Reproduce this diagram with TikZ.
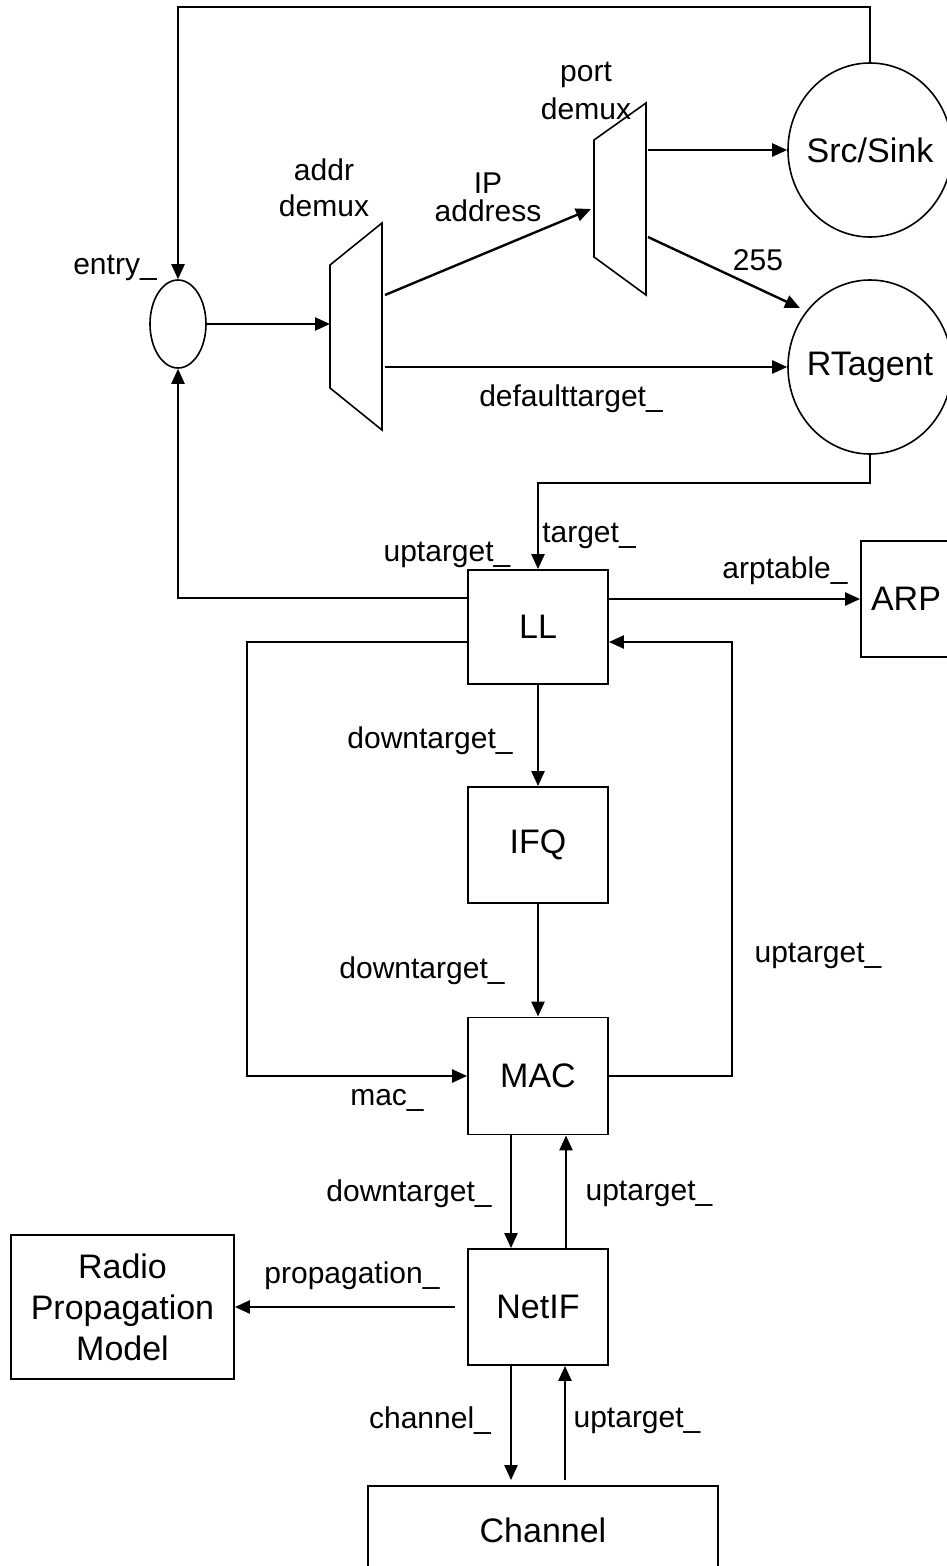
\documentclass[tikz,border=0pt]{standalone}
\usepackage{fontspec}
\setmainfont{Liberation Sans}
\usetikzlibrary{arrows.meta,shapes.geometric,positioning,calc}
\begin{document}
\begin{tikzpicture}[x=1pt,y=-1pt,
  shp/.style={draw, line width=1.6pt},
  box/.style={draw, line width=1.8pt, rectangle, inner sep=0pt, font=\fontsize{34}{36}\selectfont},
  ell/.style={draw, line width=1.6pt, ellipse, inner sep=0pt},
  big/.style={font=\fontsize{34}{36}\selectfont},
  lbl/.style={font=\fontsize{30}{34}\selectfont, inner sep=0pt, align=center},
  arr/.style={line width=2.4pt, -{Triangle[length=15pt,width=13pt]}}]
\fill[white] (0,0) rectangle (946,1566);
\useasboundingbox (0,0) rectangle (946,1566);

% nodes
\node[ell, minimum width=56pt, minimum height=88pt] (entry) at (178,324) {};
\node[ell, minimum width=164pt, minimum height=174pt, label={[big]center:Src/Sink}] (src) at (870,150) {};
\node[ell, minimum width=164pt, minimum height=174pt, label={[big]center:RTagent}] (rt) at (870,367) {};
\node[box, minimum width=140pt, minimum height=114pt] (LL) at (538,627) {LL};
\node[box, minimum width=90pt, minimum height=116pt] (arp) at (906,599) {ARP};
\node[box, minimum width=140pt, minimum height=116pt] (ifq) at (538,845) {IFQ};
\node[box, minimum width=140pt, minimum height=117pt] (mac) at (538,1076) {MAC};
\node[box, minimum width=140pt, minimum height=116pt] (netif) at (538,1307) {NetIF};
\node[box, minimum width=223pt, minimum height=144pt, align=center, font=\fontsize{34}{41}\selectfont] (radio) at (122.5,1307) {Radio\\Propagation\\Model};
\node[box, minimum width=350pt, minimum height=88pt] (chan) at (543,1530) {Channel};

% demux shapes
\draw[shp] (330,265) -- (382,223) -- (382,430) -- (330,388) -- cycle;
\draw[shp] (594,140) -- (646,103) -- (646,295) -- (594,257) -- cycle;
\coordinate (addrin) at (330,324);
\coordinate (addrup) at (385,295);
\coordinate (addrdn) at (385,367);
\coordinate (portin) at (591,209);
\coordinate (portup) at (648,150);
\coordinate (portdn) at (648,237);
\coordinate (rt255) at (800,308);

% labels
\node[lbl] (laddr) at (324,188) {addr\\[2pt]demux};
\node[lbl] (lport) at (586,91) {port\\[4pt]demux};
\node[lbl, font=\fontsize{30}{28}\selectfont] (lip) at (488,197) {IP\\address};
\node[lbl] (lentry) at (115,268) {entry\_};
\node[lbl] (l255) at (758,260) {255};
\node[lbl] (ldef) at (571,399) {defaulttarget\_};
\node[lbl] (ltarget) at (589,536) {target\_};
\node[lbl] (lup1) at (447,555) {uptarget\_};
\node[lbl] (larp) at (785,571) {arptable\_};
\node[lbl] (ldown1) at (430,741) {downtarget\_};
\node[lbl] (ldown2) at (422,971) {downtarget\_};
\node[lbl] (lup2) at (818,956) {uptarget\_};
\node[lbl] (lmac) at (387,1100) {mac\_};
\node[lbl] (ldown3) at (409,1194) {downtarget\_};
\node[lbl] (lup3) at (649,1194) {uptarget\_};
\node[lbl] (lprop) at (352,1276) {propagation\_};
\node[lbl] (lchan) at (430,1421) {channel\_};
\node[lbl] (lup4) at (637,1421) {uptarget\_};

% connectors
\coordinate (tl) at (178,7);
\draw[arr] (src.north) |- (tl) -- (entry.north);
\draw[arr] (entry.east) -- (addrin);
\draw[arr] (addrup) -- (portin);
\draw[arr] (portup) -- (src.west);
\draw[arr] (portdn) -- (rt255);
\draw[arr] (addrdn) -- (rt.west);
\coordinate (rtb) at (538,483);
\draw[arr] (rt.south) |- (rtb) -- (LL.north);
\draw[arr] ([yshift=29pt]LL.west) -| (entry.south);
\draw[arr] ([yshift=28pt]LL.east) -- (arp.west);
\coordinate (ml) at (247,642);
\draw[arr] ([yshift=-15pt]LL.west) -- (ml) |- (mac.west);
\coordinate (mr) at (732,1076);
\draw[arr] (mac.east) -- (mr) |- ([yshift=-15pt]LL.east);
\draw[arr] (LL.south) -- (ifq.north);
\draw[arr] (ifq.south) -- (mac.north);
\coordinate (m1) at ([xshift=-27pt]mac.south);
\coordinate (m2) at ([xshift=28pt]mac.south);
\draw[arr] (m1) -- (m1 |- netif.north);
\draw[arr] (m2 |- netif.north) -- (m2);
\draw[arr] ([xshift=-12pt]netif.west) -- (radio.east);
\coordinate (n1) at ([xshift=-27pt]netif.south);
\coordinate (n2) at ([xshift=27pt]netif.south);
\draw[arr, shorten >=5pt] (n1) -- (n1 |- chan.north);
\draw[arr, shorten <=5pt] (n2 |- chan.north) -- (n2);
\end{tikzpicture}
\end{document}
